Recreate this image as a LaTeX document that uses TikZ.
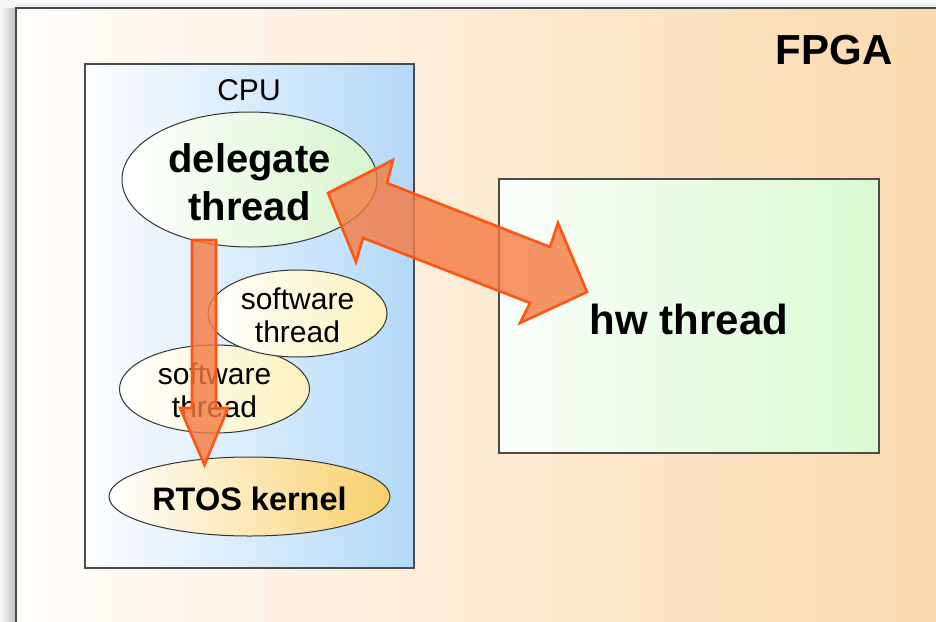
\documentclass[tikz,border=0pt]{standalone}
\usepackage{fontspec}
\setmainfont{Liberation Sans}
\usetikzlibrary{shapes.geometric}

\definecolor{fpgaL}{HTML}{FFFDFB}
\definecolor{fpgaR}{HTML}{FADAAE}
\definecolor{cpuL}{HTML}{FDFEFF}
\definecolor{cpuR}{HTML}{B3D9F9}
\definecolor{delR}{HTML}{D8F5CD}
\definecolor{swR}{HTML}{FBF2BC}
\definecolor{rtosR}{HTML}{F8D06C}
\definecolor{hwL}{HTML}{FBFEFA}
\definecolor{hwR}{HTML}{DAFAD2}
\definecolor{arrowFill}{HTML}{F47A42}
\definecolor{arrowLine}{HTML}{FF5512}
\definecolor{edge}{HTML}{4A4A4A}

\tikzset{
  boxline/.style={draw=edge, line width=1.2pt},
  blob/.style={ellipse, draw=black!80, line width=1pt, inner sep=0pt},
  bigtxt/.style={font=\fontsize{40}{48}\selectfont\bfseries, align=center},
  midtxt/.style={font=\fontsize{32.5}{38}\selectfont\bfseries, align=center},
  smalltxt/.style={font=\fontsize{30}{33}\selectfont, align=center},
  blockarrow/.style={fill=arrowFill, fill opacity=0.8, draw=arrowLine,
    line width=2.6pt, line join=miter},
}

\begin{document}
\begin{tikzpicture}[x=1pt, y=-1pt]
\useasboundingbox (0,0) rectangle (936,621);
\clip (0,0) rectangle (936,621);

% page backdrop with the drop shadow of the FPGA panel
\fill[gray!6] (0,0) rectangle (936,621);
\shade[left color=gray!5, right color=gray!50] (0,8) rectangle (16,621);
\shade[top color=gray!3, bottom color=gray!18] (16,0) rectangle (936,8);

% FPGA panel
\shade[left color=fpgaL, right color=fpgaR] (16,8) rectangle (936,621);
\draw[edge, line width=1.4pt] (16,630) -- (16,8) -- (940,8);
\node[font=\fontsize{42}{48}\selectfont\bfseries] (fpga) at (834,50) {FPGA};

% CPU panel
\draw[boxline, left color=cpuL, right color=cpuR] (85,64) rectangle (414,568);
\node[smalltxt] (cpu) at (249,90) {CPU};

% threads running on the CPU
\node[blob, left color=white, right color=delR,
      minimum width=255, minimum height=135] (delegate) at (249.5,179.5) {};
\node[bigtxt] at ([yshift=-3]delegate.center) {delegate\\thread};

\node[blob, left color=white, right color=swR,
      minimum width=190, minimum height=88] (swb) at (214.5,389) {};
\node[smalltxt] at ([yshift=-1]swb.center) {software\\thread};

\node[blob, left color=white, right color=swR,
      minimum width=179, minimum height=87] (swa) at (297.5,313.5) {};
\node[smalltxt] at ([yshift=-2]swa.center) {software\\thread};

\node[blob, left color=white, right color=rtosR,
      minimum width=281, minimum height=79] (rtos) at (249.5,496.5) {};
\node[midtxt] at ([yshift=-2]rtos.center) {RTOS kernel};

% hardware thread
\draw[boxline, left color=hwL, right color=hwR] (499,179) rectangle (879,453);
\coordinate (hwc) at (689,316);
\node[font=\fontsize{42}{48}\selectfont\bfseries] (hw) at ([yshift=-3]hwc) {hw thread};

% delegate thread -> RTOS kernel
\coordinate (vtop) at (204,240);
\coordinate (vtip) at (204.5,465);
\draw[blockarrow]
  ([xshift=-12]vtop) -- ([xshift=12]vtop) -- ([xshift=12]vtop |- 0,408)
  -- ([xshift=24]vtop |- 0,408) -- (vtip) -- ([xshift=-24]vtop |- 0,408)
  -- ([xshift=-12]vtop |- 0,408) -- cycle;

% delegate thread <-> hw thread
\coordinate (dtip) at (328,193);
\coordinate (htip) at (587,292);
\draw[blockarrow]
  (dtip) -- (393,160) -- (387,183) -- (550,247) -- (558,223) -- (htip)
  -- (520,323) -- (530,303) -- (363,238) -- (356,262) -- cycle;
\end{tikzpicture}
\end{document}
